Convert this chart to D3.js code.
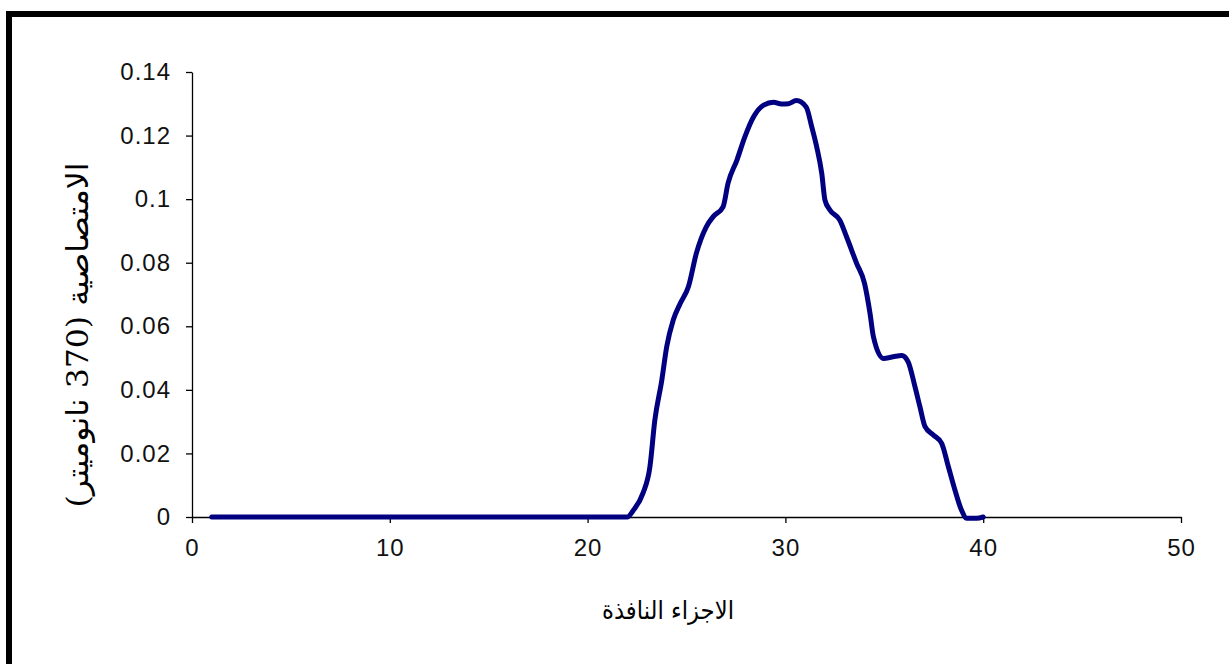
<!DOCTYPE html>
<html>
<head>
<meta charset="utf-8">
<script src="https://cdn.jsdelivr.net/npm/d3@7"></script>
<style>
  html, body { margin: 0; padding: 0; background: #fff; }
  svg { display: block; }
</style>
</head>
<body>
<svg id="chart" width="1229" height="664"></svg>
<script>
// ---- data ----
const xValues = [1, 5, 10, 15, 20, 22, 22.3, 22.8, 23.15, 23.4, 23.75, 24.0, 24.33, 24.67, 25.1, 25.5, 26.0, 26.35, 26.85,
  27.1, 27.55, 27.95, 28.4, 28.9, 29.4, 29.8, 30.15, 30.55, 31.05, 31.33, 31.58, 31.84, 32.0, 32.25, 32.75,
  33.1, 33.6, 34.0, 34.28, 34.45, 34.95, 35.45, 35.88, 36.2, 36.55, 36.8, 37.06, 37.48, 37.9, 38.24, 38.57,
  38.9, 39.17, 39.67, 40];
const yValues = [0, 0, 0, 0, 0, 0, 0.002, 0.0075, 0.0158, 0.0305, 0.043, 0.0536, 0.062, 0.067, 0.0725, 0.083, 0.0913, 0.0945, 0.0976,
  0.105, 0.1123, 0.1196, 0.126, 0.1296, 0.1305, 0.1299, 0.1300, 0.1310, 0.1290, 0.1228, 0.1165, 0.108, 0.0997, 0.0966, 0.0934,
  0.088, 0.0798, 0.0735, 0.064, 0.0567, 0.0499, 0.0504, 0.0508, 0.0489, 0.041, 0.0347, 0.0284, 0.0258, 0.0232, 0.0158, 0.0085,
  0.0022, -0.0004, -0.0004, 0];
const xTicks = [0, 10, 20, 30, 40, 50];
const yTicks = [0, 0.02, 0.04, 0.06, 0.08, 0.1, 0.12, 0.14];
const yTickLabels = ["0", "0.02", "0.04", "0.06", "0.08", "0.1", "0.12", "0.14"];
const xTitle = "الاجزاء النافذة";
const yTitle = "الامتصاصية (370 نانوميتر)";

const svg = d3.select("#chart");

// outer frame
svg.append("rect")
  .attr("x", 9).attr("y", 14)
  .attr("width", 1240).attr("height", 680)
  .attr("fill", "#fff")
  .attr("stroke", "#000").attr("stroke-width", 6);

const x = d3.scaleLinear().domain([0, 50]).range([192, 1181]);
const y = d3.scaleLinear().domain([0, 0.14]).range([517, 72]);

const font = "'Liberation Sans', Arial, sans-serif";

// y axis
const yAxis = svg.append("g")
  .attr("transform", `translate(${x(0)},0)`)
  .call(d3.axisLeft(y).tickValues(yTicks).tickSize(6).tickSizeOuter(0).tickPadding(15)
    .tickFormat((d, i) => yTickLabels[i]));
yAxis.select(".domain").attr("stroke", "#000").attr("stroke-width", 1.3);
yAxis.selectAll(".tick line").attr("stroke", "#000").attr("stroke-width", 1.3);
yAxis.selectAll(".tick text").attr("font-family", font).attr("font-size", 24)
  .attr("letter-spacing", 1).attr("fill", "#111");

// x axis
const xAxis = svg.append("g")
  .attr("transform", `translate(0,${y(0)})`)
  .call(d3.axisBottom(x).tickValues(xTicks).tickSize(6).tickSizeOuter(0).tickPadding(16)
    .tickFormat(d3.format("d")));
xAxis.select(".domain").attr("stroke", "#000").attr("stroke-width", 1.3);
xAxis.selectAll(".tick line").attr("stroke", "#000").attr("stroke-width", 1.3);
xAxis.selectAll(".tick text").attr("font-family", font).attr("font-size", 24)
  .attr("letter-spacing", 1).attr("fill", "#111");

// line
const pts = xValues.map((v, i) => [v, yValues[i]]);
svg.append("path")
  .datum(pts)
  .attr("fill", "none")
  .attr("stroke", "#000080")
  .attr("stroke-width", 5)
  .attr("stroke-linejoin", "round")
  .attr("stroke-linecap", "round")
  .attr("d", d3.line().x(d => x(d[0])).y(d => y(d[1])).curve(d3.curveMonotoneX));

// titles
svg.append("text")
  .attr("x", 668).attr("y", 619)
  .attr("text-anchor", "middle")
  .attr("direction", "rtl")
  .attr("font-family", "'DejaVu Serif', 'DejaVu Sans', serif")
  .attr("font-size", 25)
  .attr("textLength", 132)
  .attr("lengthAdjust", "spacingAndGlyphs")
  .attr("fill", "#000")
  .text(xTitle);

svg.append("text")
  .attr("transform", "translate(88,335) rotate(-90)")
  .attr("text-anchor", "middle")
  .attr("direction", "rtl")
  .attr("font-family", "'DejaVu Serif', 'DejaVu Sans', serif")
  .attr("font-size", 30)
  .attr("textLength", 345)
  .attr("lengthAdjust", "spacingAndGlyphs")
  .attr("fill", "#000")
  .text(yTitle);
</script>
</body>
</html>
